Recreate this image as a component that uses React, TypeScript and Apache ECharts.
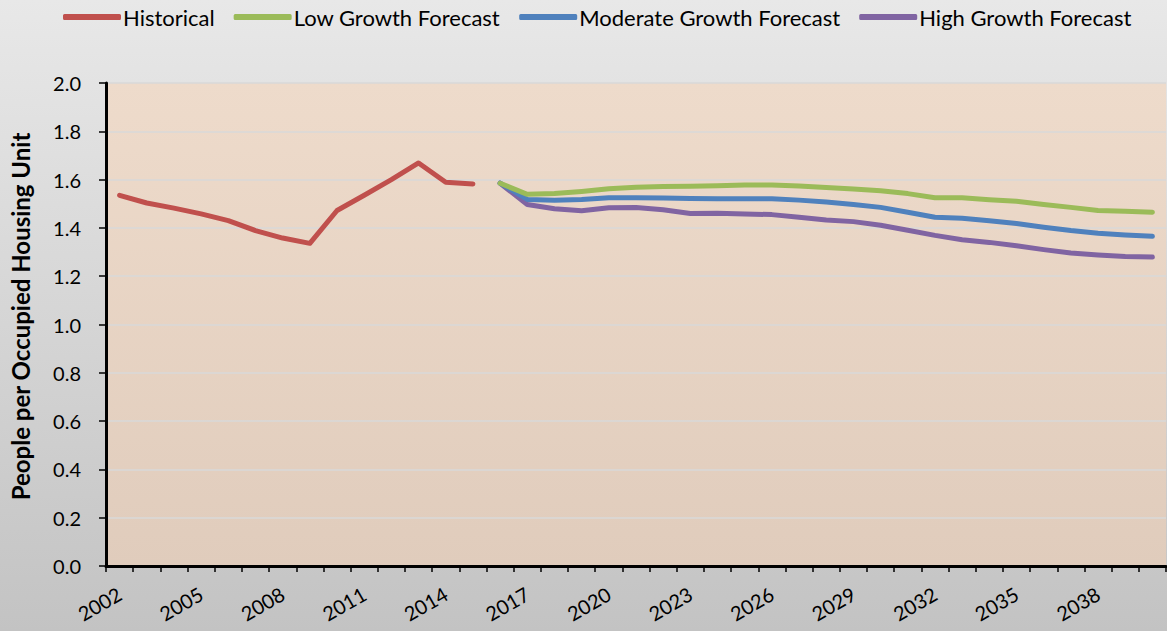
import React, { useEffect, useRef } from "react";
import * as echarts from "echarts";

const years: string[] = [];
for (let y = 2002; y <= 2040; y++) years.push(String(y));

const historical = [1.535, 1.503, 1.482, 1.458, 1.43, 1.389, 1.358, 1.336, 1.472, 1.535, 1.6, 1.669, 1.589, 1.582];

const lowGrowth = [1.585, 1.539, 1.542, 1.551, 1.562, 1.568, 1.571, 1.572, 1.575, 1.578, 1.578, 1.573, 1.567, 1.561, 1.554, 1.542, 1.525, 1.525, 1.517, 1.51, 1.497, 1.485, 1.472, 1.469, 1.465];
const moderateGrowth = [1.585, 1.518, 1.515, 1.518, 1.525, 1.525, 1.524, 1.522, 1.521, 1.521, 1.521, 1.515, 1.507, 1.497, 1.485, 1.465, 1.444, 1.44, 1.43, 1.418, 1.403, 1.389, 1.378, 1.371, 1.365];
const highGrowth = [1.585, 1.497, 1.479, 1.471, 1.483, 1.484, 1.475, 1.46, 1.461, 1.458, 1.455, 1.444, 1.433, 1.426, 1.411, 1.39, 1.369, 1.351, 1.34, 1.326, 1.31, 1.296, 1.288, 1.282, 1.279];

const seriesNames = ["Historical", "Low Growth Forecast", "Moderate Growth Forecast", "High Growth Forecast"];
const seriesColors = ["#c0504d", "#9bbb59", "#4f81bd", "#8064a2"];

const FONT = "Lato, 'Open Sans', sans-serif";

export default function App() {
  const ref = useRef<HTMLDivElement>(null);
  useEffect(() => {
    if (!ref.current) return;
    const chart = echarts.init(ref.current, undefined, { renderer: "svg" });
    const pad = (arr: number[], before: number, total: number) => {
      const out: (number | null)[] = [];
      for (let i = 0; i < before; i++) out.push(null);
      for (const v of arr) out.push(v);
      while (out.length < total) out.push(null);
      return out;
    };
    const n = years.length;
    const data = [
      pad(historical, 0, n),
      pad(lowGrowth, 14, n),
      pad(moderateGrowth, 14, n),
      pad(highGrowth, 14, n),
    ];
    chart.setOption({
      animation: false,
      backgroundColor: new echarts.graphic.LinearGradient(0, 0, 0, 1, [
        { offset: 0, color: "#e8e8e8" },
        { offset: 1, color: "#c3c3c3" },
      ]),
      textStyle: { fontFamily: FONT },
      legend: {
        left: 58,
        top: 1,
        icon: "roundRect",
        itemWidth: 58,
        itemHeight: 6,
        itemGap: 19,
        textStyle: { fontSize: 22, color: "#000", fontFamily: FONT, padding: [0, 0, 0, -3] },
        data: seriesNames,
      },
      grid: {
        left: 101,
        right: 1,
        top: 83,
        bottom: 65,
        show: true,
        borderWidth: 0,
        backgroundColor: new echarts.graphic.LinearGradient(0, 0, 0, 1, [
          { offset: 0, color: "#eedbcb" },
          { offset: 1, color: "#e0ccbc" },
        ]),
      },
      xAxis: {
        type: "category",
        data: years,
        boundaryGap: true,
        axisLine: { lineStyle: { color: "#000", width: 3 } },
        axisTick: { show: true, interval: 0, length: 6, lineStyle: { color: "#000", width: 1.5 } },
        axisLabel: {
          interval: 2,
          rotate: 30,
          margin: 26,
          fontSize: 20,
          color: "#000",
          fontFamily: FONT,
        },
        splitLine: { show: false },
      },
      yAxis: {
        type: "value",
        min: 0,
        max: 2,
        interval: 0.2,
        name: "People per Occupied Housing Unit",
        nameLocation: "middle",
        nameGap: 74,
        nameTextStyle: { fontSize: 24, fontWeight: "bold", color: "#000", fontFamily: FONT, padding: [0, 0, 0, 16] },
        axisLine: { show: true, lineStyle: { color: "#000", width: 3 } },
        axisTick: { show: true, length: 7, lineStyle: { color: "#000", width: 1.5 } },
        axisLabel: {
          fontSize: 20,
          color: "#000",
          margin: 25,
          fontFamily: FONT,
          formatter: (v: number) => v.toFixed(1),
        },
        splitLine: { show: true, lineStyle: { color: "#d9d9d9", width: 1.5 } },
      },
      series: seriesNames.map((name, i) => ({
        name,
        type: "line",
        data: data[i],
        showSymbol: false,
        symbol: "none",
        connectNulls: false,
        z: 10 - i,
        lineStyle: { color: seriesColors[i], width: 5, cap: "round", join: "round" },
        itemStyle: { color: seriesColors[i] },
      })),
    });
    return () => chart.dispose();
  }, []);
  return (
    <div
      ref={ref}
      style={{ position: "fixed", left: 0, top: 0, width: 1167, height: 631 }}
    />
  );
}
